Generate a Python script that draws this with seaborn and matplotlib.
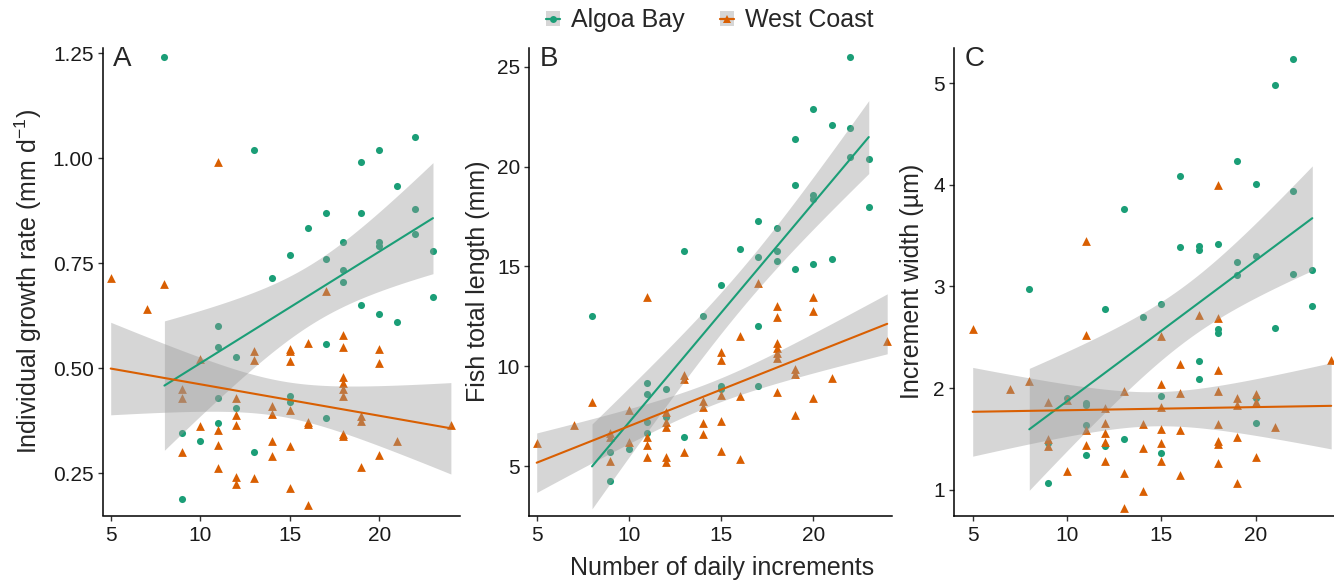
import numpy as np
import pandas as pd
import matplotlib
matplotlib.use("Agg")
import matplotlib.pyplot as plt
import seaborn as sns
from matplotlib.lines import Line2D
from matplotlib.patches import Patch
from matplotlib.legend_handler import HandlerTuple

# ---------------- data ----------------
sites = ["Algoa Bay", "West Coast"]
site_colors = ["#1B9E77", "#D95F02"]
site_markers = ["o", "^"]

A_ab_x = [8,13,22,20,19,21,17,19,16,22,18,20,20,22,15,17,23,18,18,14,23,19,20,21,11,17,11,12,11,15,15,12,17,11,9,10,13,9]
A_ab_y = [1.24,1.02,1.05,1.02,0.99,0.935,0.87,0.87,0.835,0.88,0.80,0.80,0.79,0.82,0.77,0.76,0.78,0.735,0.705,0.715,
          0.67,0.65,0.63,0.61,0.60,0.557,0.55,0.527,0.43,0.433,0.42,0.405,0.382,0.37,0.346,0.328,0.30,0.188]
A_wc_x = [11,5,8,17,7,18,16,18,20,15,15,13,13,15,10,20,18,18,18,18,9,9,12,14,14,15,12,12,19,19,16,16,10,11,18,18,14,21,11,15,
          9,20,14,19,11,12,12,13,15,16,24]
A_wc_y = [0.99,0.715,0.70,0.685,0.64,0.58,0.56,0.55,0.547,0.545,0.54,0.54,0.52,0.518,0.523,0.512,0.48,0.465,0.45,0.435,
          0.45,0.43,0.43,0.41,0.39,0.40,0.388,0.366,0.386,0.375,0.373,0.368,0.363,0.353,0.343,0.339,0.327,0.327,0.317,0.315,
          0.30,0.294,0.29,0.264,0.262,0.242,0.224,0.239,0.215,0.174,0.365]

B_ab_x = [22,20,21,22,19,22,23,19,20,20,23,17,18,13,16,18,17,18,21,20,19,15,8,14,17,11,12,11,15,15,17,12,11,11,13,10,9,9]
B_ab_y = [25.5,22.9,22.1,21.95,21.4,20.5,20.4,19.07,18.6,18.4,17.96,17.3,16.95,15.8,15.9,15.77,15.5,15.27,15.4,15.1,
          14.88,14.08,12.5,12.54,12.0,9.16,8.85,8.6,9.0,8.85,9.02,7.45,7.23,6.64,6.44,5.84,5.69,4.25]
B_wc_x = [17,11,20,20,18,18,16,24,18,18,18,18,15,15,19,19,13,13,21,15,16,18,20,8,14,14,10,12,12,12,15,19,7,14,14,9,9,11,11,10,
          5,15,13,11,12,12,9,16]
B_wc_y = [14.18,13.45,13.45,12.75,13.0,12.47,11.53,11.25,11.17,10.9,10.65,10.4,10.7,10.33,9.87,9.62,9.57,9.35,9.39,8.57,
          8.52,8.7,8.4,8.2,8.28,7.98,7.81,7.7,7.23,6.97,7.28,7.56,7.06,7.15,6.61,6.64,6.47,6.47,6.06,6.19,
          6.17,5.77,5.69,5.47,5.47,5.22,5.27,5.34]

C_ab_x = [22,21,19,16,20,22,13,16,17,17,18,19,20,19,22,23,8,12,15,14,23,18,18,21,17,17,15,20,10,11,11,20,11,9,13,12,11,15,9]
C_ab_y = [5.24,4.98,4.23,4.09,4.01,3.94,3.76,3.39,3.40,3.36,3.42,3.24,3.30,3.11,3.12,3.16,2.98,2.78,2.83,2.70,
          2.81,2.58,2.54,2.59,2.27,2.09,1.92,1.90,1.90,1.85,1.83,1.66,1.64,1.46,1.50,1.43,1.34,1.36,1.07]
C_wc_x = [18,11,5,17,18,11,15,24,16,18,8,7,13,15,16,18,19,19,20,20,9,10,12,15,21,14,12,18,11,15,16,12,9,9,19,12,15,18,18,11,
          14,20,12,15,18,10,13,16,19,14,13]
C_wc_y = [4.0,3.45,2.58,2.72,2.69,2.52,2.51,2.28,2.24,2.18,2.07,1.99,1.97,2.04,1.95,1.97,1.90,1.83,1.94,1.86,
          1.86,1.88,1.80,1.81,1.62,1.65,1.66,1.65,1.59,1.60,1.59,1.56,1.50,1.43,1.52,1.47,1.46,1.48,1.45,1.44,
          1.41,1.32,1.28,1.28,1.26,1.18,1.16,1.14,1.07,0.99,0.82]

panel_letters = ["A", "B", "C"]
y_labels = [r"Individual growth rate (mm d$^{-1}$)", "Fish total length (mm)", "Increment width (\u00b5m)"]
x_label = "Number of daily increments"
x_ticks = [5, 10, 15, 20]
y_ticks = [[0.25, 0.50, 0.75, 1.00, 1.25], [5, 10, 15, 20, 25], [1, 2, 3, 4, 5]]
y_ticklabels = [["0.25", "0.50", "0.75", "1.00", "1.25"], ["5", "10", "15", "20", "25"], ["1", "2", "3", "4", "5"]]

def frame(xa, ya, xw, yw):
    return pd.DataFrame({
        "n": list(xa) + list(xw),
        "v": list(ya) + list(yw),
        "site": [sites[0]] * len(xa) + [sites[1]] * len(xw),
    })

panels = [frame(A_ab_x, A_ab_y, A_wc_x, A_wc_y),
          frame(B_ab_x, B_ab_y, B_wc_x, B_wc_y),
          frame(C_ab_x, C_ab_y, C_wc_x, C_wc_y)]


def lm_band(x, y, grid):
    """95% confidence band of an ordinary least-squares line (as ggplot's geom_smooth)."""
    x = np.asarray(x, float)
    y = np.asarray(y, float)
    n = len(x)
    b1, b0 = np.polyfit(x, y, 1)
    resid = y - (b0 + b1 * x)
    s = np.sqrt(np.sum(resid ** 2) / (n - 2))
    sxx = np.sum((x - x.mean()) ** 2)
    se = s * np.sqrt(1.0 / n + (grid - x.mean()) ** 2 / sxx)
    tq = 1.96 + 2.4 / (n - 2)  # t(0.975, df) for df ~ 30-50
    yhat = b0 + b1 * grid
    return yhat - tq * se, yhat + tq * se


# ---------------- style ----------------
sns.set_style("ticks")
plt.rcParams["font.family"] = ["Liberation Sans", "DejaVu Sans"]
plt.rcParams["mathtext.fontset"] = "custom"
plt.rcParams["mathtext.rm"] = "Liberation Sans"
plt.rcParams["mathtext.it"] = "Liberation Sans:italic"
plt.rcParams["mathtext.bf"] = "Liberation Sans:bold"

W, H = 1334, 582
fig = plt.figure(figsize=(W / 100, H / 100), dpi=100)

boxes = [(102.7, 460.0), (529.3, 892.0), (954.0, 1334.0)]
xlims = [(4.553, 24.51), (4.599, 24.26), (4.009, 24.15)]
ylims = [(0.1495, 1.2626), (2.52, 25.95), (0.746, 5.347)]
TOP, BOT = 48.0, 515.5
letter_x = [113, 540, 965]
ylabel_x = [28, 478, 912]

for i, df in enumerate(panels):
    l, r = boxes[i]
    ax = fig.add_axes([l / W, 1 - BOT / H, (r - l) / W, (BOT - TOP) / H])
    for s, c, m in zip(sites, site_colors, site_markers):
        sub = df[df["site"] == s]
        sns.scatterplot(data=sub, x="n", y="v", ax=ax, color=c, marker=m,
                        s=26 if m == "o" else 40, linewidth=0, zorder=2, legend=False)
    for s, c in zip(sites, site_colors):
        sub = df[df["site"] == s]
        grid = np.linspace(sub["n"].min(), sub["n"].max(), 120)
        lo, hi = lm_band(sub["n"], sub["v"], grid)
        ax.fill_between(grid, lo, hi, facecolor="#999999", alpha=0.4, linewidth=0, zorder=3)
        sns.regplot(data=sub, x="n", y="v", ax=ax, scatter=False, ci=None,
                    color=c, truncate=True, line_kws=dict(lw=1.5, zorder=5))
    ax.set_xlim(*xlims[i])
    ax.set_ylim(*ylims[i])
    ax.set_xticks(x_ticks)
    ax.set_xticklabels([str(t) for t in x_ticks])
    ax.set_yticks(y_ticks[i])
    ax.set_yticklabels(y_ticklabels[i])
    ax.set_xlabel("")
    ax.set_ylabel("")
    sns.despine(ax=ax)
    for sp in ["left", "bottom"]:
        ax.spines[sp].set_linewidth(1.1)
        ax.spines[sp].set_color("black")
    ax.tick_params(axis="both", length=3.6, width=1.0, color="#333333",
                   labelsize=15, labelcolor="#1a1a1a")
    ax.tick_params(axis="x", pad=4)
    ax.tick_params(axis="y", pad=3)
    fig.text(letter_x[i] / W, 1 - 46 / H, panel_letters[i], fontsize=20, ha="left", va="top")
    fig.text(ylabel_x[i] / W, 1 - 281 / H, y_labels[i], fontsize=18, rotation=90,
             ha="center", va="center")

fig.text(722 / W, 1 - 568 / H, x_label, fontsize=18, ha="center", va="center")

handles = []
for c, m in zip(site_colors, site_markers):
    p = Patch(facecolor="#999999", alpha=0.4, edgecolor="none")
    ln = Line2D([], [], color=c, marker=m, lw=1.6, markersize=5 if m == "o" else 6, markeredgewidth=0)
    handles.append((p, ln))
fig.legend(handles=handles, labels=sites, loc="center", bbox_to_anchor=(710 / W, 1 - 20 / H),
           ncol=2, frameon=False, fontsize=18, handlelength=0.55, handleheight=0.55,
           handletextpad=0.45, columnspacing=1.4, borderaxespad=0,
           handler_map={tuple: HandlerTuple(ndivide=1, pad=0)})

fig.savefig("out.png", dpi=100)
